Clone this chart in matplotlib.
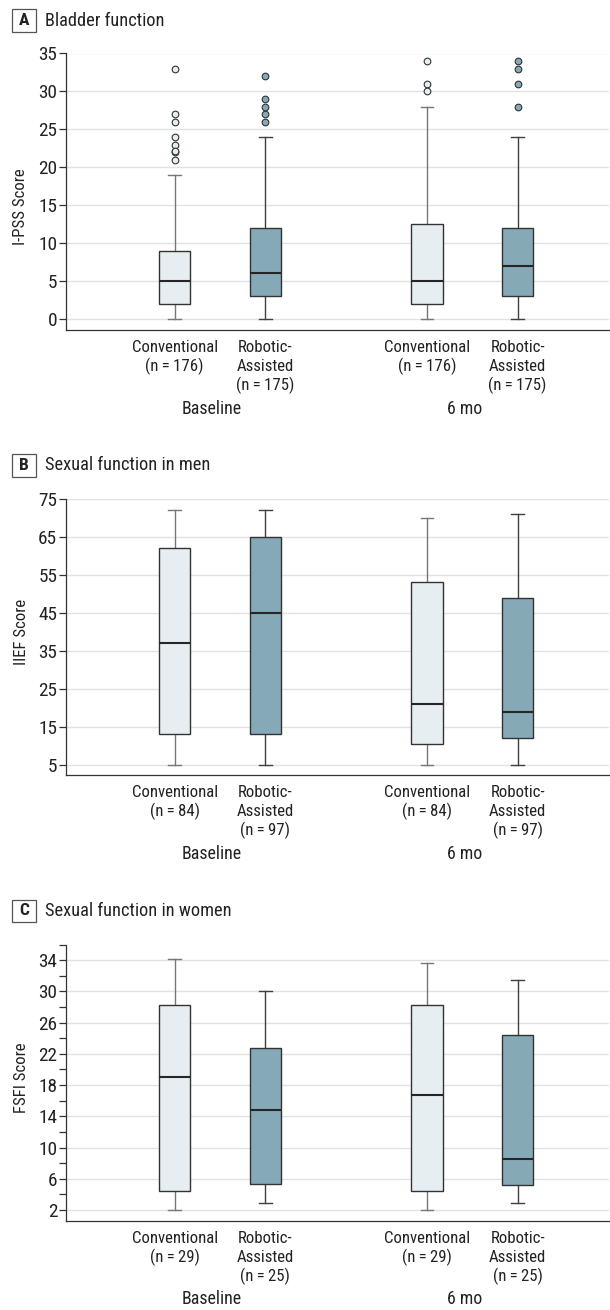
import matplotlib
matplotlib.use('Agg')
import matplotlib.pyplot as plt
from matplotlib.patches import Rectangle
from matplotlib.ticker import FixedLocator
from matplotlib import font_manager as fm
from matplotlib.textpath import TextPath

# ---------------- data ----------------
groups = ['Baseline', '6 mo']
arms = ['Conventional', 'Robotic-\nAssisted']

# Panel A: Bladder function (I-PSS)
a_n = [176, 175, 176, 175]
a_whislo = [0, 0, 0, 0]
a_q1 = [2, 3, 2, 3]
a_med = [5, 6, 5, 7]
a_q3 = [9, 12, 12.5, 12]
a_whishi = [19, 24, 28, 24]
a_fliers = [[33, 27, 26, 24, 23, 22, 22.15, 21],
            [32, 29, 28, 27, 26],
            [34, 31, 30],
            [34, 33, 31, 28]]
a_yticks = [0, 5, 10, 15, 20, 25, 30, 35]

# Panel B: Sexual function in men (IIEF)
b_n = [84, 97, 84, 97]
b_whislo = [5, 5, 5, 5]
b_q1 = [13, 13, 10.5, 12]
b_med = [37, 45, 21, 19]
b_q3 = [62, 65, 53, 49]
b_whishi = [72, 72, 70, 71]
b_fliers = [[], [], [], []]
b_yticks = [5, 15, 25, 35, 45, 55, 65, 75]

# Panel C: Sexual function in women (FSFI)
c_n = [29, 25, 29, 25]
c_whislo = [2.0, 2.85, 2.0, 2.9]
c_q1 = [4.4, 5.4, 4.5, 5.2]
c_med = [19.1, 14.8, 16.7, 8.5]
c_q3 = [28.2, 22.7, 28.3, 24.4]
c_whishi = [34.2, 30.1, 33.6, 31.4]
c_fliers = [[], [], [], []]
c_yticks = [2, 6, 10, 14, 18, 22, 26, 30, 34]
c_minor = [4, 8, 12, 16, 20, 24, 28, 32, 36]

# ---------------- font choice (prefer a condensed humanist face) ----------------
_entries = fm.fontManager.ttflist
_names = {f.name for f in _entries}
FAMILY, STRETCH = 'Open Sans', 'normal'
for cand in ['Roboto Condensed', 'Open Sans Condensed', 'Noto Sans Condensed',
             'Liberation Sans Narrow', 'Arial Narrow', 'Ubuntu Condensed']:
    if cand in _names:
        FAMILY = cand
        break
plt.rcParams['font.family'] = [FAMILY, 'DejaVu Sans']
plt.rcParams['font.stretch'] = STRETCH


def fit_size(text, target_px, weight='normal'):
    fp = fm.FontProperties(family=[FAMILY, 'DejaVu Sans'], stretch=STRETCH,
                           weight=weight, size=10)
    w = TextPath((0, 0), text, prop=fp).get_extents().width  # points at 10pt
    return 10 * (target_px * 0.72) / w


FS_CAT = fit_size('Conventional', 84.4)
FS_TICK = fit_size('35', 17.3)
FS_TITLE = fit_size('Bladder function', 117)
FS_YLAB = FS_CAT
FS_GROUP = fit_size('Baseline', 58)

# ---------------- style ----------------
W, H = 610, 1310
POS = [1, 2, 3.78, 4.78]
XLIM = (-0.204, 5.788)
CONV_FILL = '#e6eef1'
ROB_FILL = '#86a9b7'
CONV_WHISK = '#777777'
ROB_WHISK = '#404040'
EDGE = '#333333'
TXT = '#222222'
PT = 0.72  # points per pixel at 100 dpi

fig = plt.figure(figsize=(W / 100, H / 100), dpi=100)


def px_rect(left, top, right, bottom):
    return [left / W, 1 - bottom / H, (right - left) / W, (bottom - top) / H]


def panel(top_px, bottom_px, letter, title, title_cy, ylabel, ylab_cy, n,
          whislo, q1, med, q3, whishi, fliers, yticks, ylim, minor=None):
    ax = fig.add_axes(px_rect(65.5, top_px, 609, bottom_px))
    stats = []
    for i in range(4):
        stats.append(dict(med=med[i], q1=q1[i], q3=q3[i], whislo=whislo[i],
                          whishi=whishi[i], fliers=fliers[i]))
    res = ax.bxp(stats, positions=POS, widths=0.345, capwidths=0.14,
                 patch_artist=True, showfliers=True, manage_ticks=False)
    for i in range(4):
        conv = (i % 2 == 0)
        box = res['boxes'][i]
        box.set_facecolor(CONV_FILL if conv else ROB_FILL)
        box.set_edgecolor(EDGE)
        box.set_linewidth(1.0)
        box.set_zorder(3)
        m = res['medians'][i]
        m.set_color('#262626')
        m.set_linewidth(1.5)
        m.set_zorder(4)
        wc = CONV_WHISK if conv else ROB_WHISK
        for ln in res['whiskers'][2 * i:2 * i + 2] + res['caps'][2 * i:2 * i + 2]:
            ln.set_color(wc)
            ln.set_linewidth(1.0)
            ln.set_zorder(2)
        f = res['fliers'][i]
        f.set_marker('o')
        f.set_markersize(4.8)
        f.set_markerfacecolor(CONV_FILL if conv else ROB_FILL)
        f.set_markeredgecolor(EDGE)
        f.set_markeredgewidth(0.8)
        f.set_zorder(4)

    ax.set_xlim(*XLIM)
    ax.set_ylim(*ylim)
    ax.set_yticks(yticks)
    ax.set_yticklabels([str(t) for t in yticks])
    ax.set_xticks([])
    if minor is not None:
        ax.yaxis.set_minor_locator(FixedLocator(minor))
        ax.tick_params(axis='y', which='minor', length=7 * PT, width=0.9,
                       color=EDGE)
    ax.tick_params(axis='y', which='major', length=7 * PT, width=0.9,
                   color=EDGE, pad=1.2 * PT, labelsize=FS_TICK, labelcolor=TXT)
    ax.yaxis.grid(True, which='major', color='#e2e2e2', linewidth=1.0)
    ax.set_axisbelow(True)
    for s in ['top', 'right']:
        ax.spines[s].set_visible(False)
    for s in ['left', 'bottom']:
        ax.spines[s].set_color(EDGE)
        ax.spines[s].set_linewidth(0.9)

    # category labels
    for i in range(4):
        lines = arms[i % 2].split('\n') + ['(n\u2009=\u2009%d)' % n[i]]
        for k, line in enumerate(lines):
            off = 17.5 + 19 * k
            ax.annotate(line, xy=(POS[i], 0), xycoords=('data', 'axes fraction'),
                        xytext=(0, -off * PT), textcoords='offset points',
                        ha='center', va='center', fontsize=FS_CAT, color=TXT,
                        annotation_clip=False)
    for g in range(2):
        gx = (POS[2 * g] + POS[2 * g + 1]) / 2
        ax.annotate(groups[g], xy=(gx, 0), xycoords=('data', 'axes fraction'),
                    xytext=(-8 * PT, -78.5 * PT), textcoords='offset points',
                    ha='center', va='center', fontsize=FS_GROUP, color=TXT,
                    annotation_clip=False)

    # y label
    fig.text(21 / W, 1 - ylab_cy / H, ylabel, rotation=90,
             ha='center', va='center', fontsize=FS_YLAB, color=TXT)

    # panel title with boxed letter
    fig.add_artist(Rectangle((12.3 / W, 1 - (title_cy + 11.2) / H),
                             23.7 / W, 22.4 / H, transform=fig.transFigure,
                             facecolor='white', edgecolor='#555555',
                             linewidth=0.9))
    fig.text(24.1 / W, 1 - title_cy / H, letter, ha='center', va='center',
             fontsize=FS_TITLE * 0.95, fontweight='bold', color=TXT)
    fig.text(45 / W, 1 - title_cy / H, title, ha='left', va='center',
             fontsize=FS_TITLE, color=TXT)
    return ax


panel(53.5, 330.3, 'A', 'Bladder function', 20.5, 'I-PSS Score', 207,
      a_n, a_whislo, a_q1, a_med, a_q3, a_whishi, a_fliers, a_yticks,
      (-1.49, 35))
panel(499, 775.3, 'B', 'Sexual function in men', 465.5, 'IIEF Score', 632,
      b_n, b_whislo, b_q1, b_med, b_q3, b_whishi, b_fliers, b_yticks,
      (2.2, 75))
panel(944.5, 1221, 'C', 'Sexual function in women', 910.7, 'FSFI Score', 1078,
      c_n, c_whislo, c_q1, c_med, c_q3, c_whishi, c_fliers, c_yticks,
      (0.6, 36), minor=c_minor)

fig.savefig('out.png', dpi=100, facecolor='white')
